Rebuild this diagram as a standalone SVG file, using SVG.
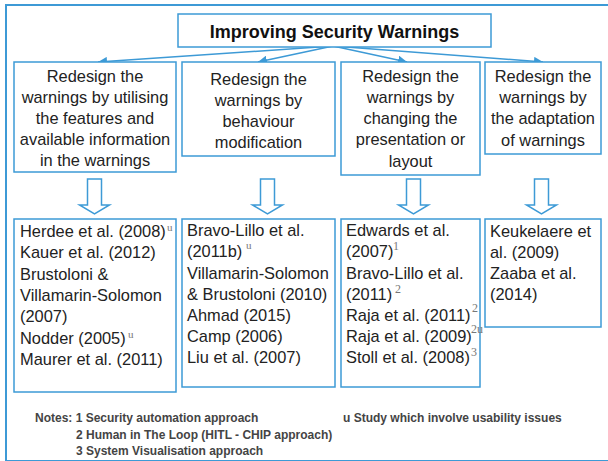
<svg xmlns="http://www.w3.org/2000/svg" width="608" height="461" viewBox="0 0 608 461">
<style>
.box{fill:#fff;stroke:#3d9ad6;stroke-width:1.5}
.frame{fill:none;stroke:#3d9ad6;stroke-width:2}
.t{font-family:"Liberation Sans",Arial,sans-serif;font-size:16.4px;fill:#222}
.c{text-anchor:middle}
.title{font-family:"Liberation Sans",Arial,sans-serif;font-size:18px;font-weight:bold;fill:#111;text-anchor:middle}
.sup{font-family:"Liberation Serif","Times New Roman",serif;font-size:11px;fill:#777}
.note{font-family:"Liberation Sans",Arial,sans-serif;font-size:12px;font-weight:bold;fill:#444}
.conn{stroke:#3d9ad6;stroke-width:1.5;fill:none}
.blk{fill:#fff;stroke:#3d9ad6;stroke-width:1.5;stroke-linejoin:miter}
</style>
<defs>
<marker id="ah" viewBox="0 0 10 10" refX="10" refY="5" markerWidth="6" markerHeight="6" orient="auto" markerUnits="strokeWidth">
<path d="M0,0 L10,5 L0,10 z" fill="#3d9ad6"/>
</marker>
</defs>
<rect class="frame" x="6" y="5" width="640" height="456"/>

<g id="connectors">
<line class="conn" x1="333" y1="46" x2="98" y2="62" marker-end="url(#ah)"/>
<line class="conn" x1="333" y1="46" x2="258" y2="62" marker-end="url(#ah)"/>
<line class="conn" x1="333" y1="46" x2="407" y2="62" marker-end="url(#ah)"/>
<line class="conn" x1="333" y1="46" x2="543" y2="62" marker-end="url(#ah)"/>
<path class="blk" d="M87.5,179 H101.5 V205 H109.5 L94.5,214 L79.5,205 H87.5 Z"/>
<path class="blk" d="M260.5,179 H274.5 V205 H282.5 L267.5,214 L252.5,205 H260.5 Z"/>
<path class="blk" d="M406.5,179 H420.5 V205 H428.5 L413.5,214 L398.5,205 H406.5 Z"/>
<path class="blk" d="M534.5,179 H548.5 V205 H556.5 L541.5,214 L526.5,205 H534.5 Z"/>
</g>

<g id="title">
<rect class="box" x="178" y="14" width="313" height="33"/>
<text class="title" x="334.5" y="38">Improving Security Warnings</text>
</g>

<g id="cat1">
<rect class="box" x="14" y="62" width="162" height="110"/>
<text class="t c" x="95" y="81.5">Redesign the</text>
<text class="t c" x="95" y="102.5">warnings by utilising</text>
<text class="t c" x="95" y="123.5">the features and</text>
<text class="t c" x="95" y="144.5">available information</text>
<text class="t c" x="95" y="165.5">in the warnings</text>
</g>

<g id="cat2">
<rect class="box" x="182" y="62" width="153" height="94"/>
<text class="t c" x="258.5" y="84.5">Redesign the</text>
<text class="t c" x="258.5" y="105.5">warnings by</text>
<text class="t c" x="258.5" y="126.5">behaviour</text>
<text class="t c" x="258.5" y="147.5">modification</text>
</g>

<g id="cat3">
<rect class="box" x="341" y="62" width="139" height="113"/>
<text class="t c" x="410.5" y="81.5">Redesign the</text>
<text class="t c" x="410.5" y="102.5">warnings by</text>
<text class="t c" x="410.5" y="123.5">changing the</text>
<text class="t c" x="410.5" y="145">presentation or</text>
<text class="t c" x="410.5" y="166.5">layout</text>
</g>

<g id="cat4">
<rect class="box" x="485" y="62" width="116" height="92"/>
<text class="t c" x="543" y="81.5">Redesign the</text>
<text class="t c" x="543" y="102.5">warnings by</text>
<text class="t c" x="543" y="124">the adaptation</text>
<text class="t c" x="543" y="145.5">of warnings</text>
</g>

<g id="refs1">
<rect class="box" x="14" y="219" width="162" height="173"/>
<text class="t" x="20" y="236.5">Herdee et al. (2008)</text>
<text class="sup" x="167" y="231">u</text>
<text class="t" x="20" y="258">Kauer et al. (2012)</text>
<text class="t" x="20" y="279.5">Brustoloni &amp;</text>
<text class="t" x="20" y="301">Villamarin-Solomon</text>
<text class="t" x="20" y="322">(2007)</text>
<text class="t" x="20" y="343.5">Nodder (2005)</text>
<text class="sup" x="128" y="338">u</text>
<text class="t" x="20" y="365">Maurer et al. (2011)</text>
</g>

<g id="refs2">
<rect class="box" x="182" y="219" width="153" height="168"/>
<text class="t" x="187" y="236">Bravo-Lillo et al.</text>
<text class="t" x="187" y="257">(2011b)</text>
<text class="sup" x="246" y="248.5">u</text>
<text class="t" x="187" y="278.5">Villamarin-Solomon</text>
<text class="t" x="187" y="300">&amp; Brustoloni (2010)</text>
<text class="t" x="187" y="321">Ahmad (2015)</text>
<text class="t" x="187" y="342">Camp (2006)</text>
<text class="t" x="187" y="363">Liu et al. (2007)</text>
</g>

<g id="refs3">
<rect class="box" x="341" y="219" width="139" height="168"/>
<text class="t" x="346" y="235.5">Edwards et al.</text>
<text class="t" x="346" y="257">(2007)</text>
<text class="sup" x="393" y="250" style="font-size:12px">1</text>
<text class="t" x="346" y="278.5">Bravo-Lillo et al.</text>
<text class="t" x="346" y="300">(2011)</text>
<text class="sup" x="395" y="293" style="font-size:12px">2</text>
<text class="t" x="346" y="321">Raja et al. (2011)</text>
<text class="sup" x="472" y="312" style="font-size:12px">2</text>
<text class="t" x="346" y="342">Raja et al. (2009)</text>
<text class="sup" x="471" y="333" style="font-size:12px">2u</text>
<text class="t" x="346" y="363">Stoll et al. (2008)</text>
<text class="sup" x="471" y="356" style="font-size:12px">3</text>
</g>

<g id="refs4">
<rect class="box" x="485" y="219" width="116" height="108"/>
<text class="t" x="490" y="237">Keukelaere et</text>
<text class="t" x="490" y="258">al. (2009)</text>
<text class="t" x="490" y="279">Zaaba et al.</text>
<text class="t" x="490" y="300">(2014)</text>
</g>

<g id="notes">
<text class="note" x="35" y="422">Notes: 1 Security automation approach</text>
<text class="note" x="343" y="422">u Study which involve usability issues</text>
<text class="note" x="76" y="439">2 Human in The Loop (HITL - CHIP approach)</text>
<text class="note" x="76" y="455">3 System Visualisation approach</text>
</g>
</svg>
